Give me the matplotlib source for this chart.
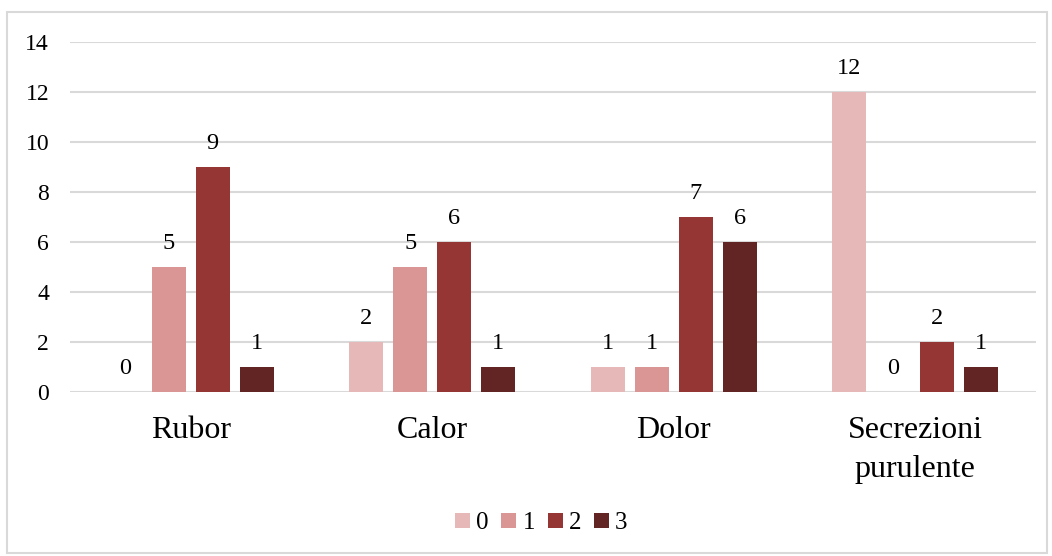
import matplotlib.pyplot as plt
import matplotlib.patches as mpatches
import numpy as np

plt.rcParams['font.family'] = ['Liberation Serif', 'DejaVu Serif']

categories = ["Rubor", "Calor", "Dolor", "Secrezioni\npurulente"]
levels = ["0", "1", "2", "3"]
values = [
    [0, 2, 1, 12],   # grado 0
    [5, 5, 1, 0],    # grado 1
    [9, 6, 7, 2],    # grado 2
    [1, 1, 6, 1],    # grado 3
]
colors = ["#E6B8B7", "#DA9694", "#963634", "#632523"]

fig = plt.figure(figsize=(10.52, 5.56), dpi=100)
ax = fig.add_axes([70 / 1052, 1 - 392 / 556, 966 / 1052, 350 / 556])

# outer chart frame
fig.patches.append(mpatches.Rectangle((7 / 1052, 3 / 556), 1040 / 1052, 541 / 556,
                                      transform=fig.transFigure, fill=False,
                                      edgecolor="#D9D9D9", linewidth=1.5))

x = np.arange(len(categories))
pitch = 0.182
W = 0.141
for i, (lvl, vals, c) in enumerate(zip(levels, values, colors)):
    pos = x + (i - 1.5) * pitch
    bars = ax.bar(pos, vals, W, color=c, label=lvl, zorder=3)
    for p, v in zip(pos, vals):
        ax.text(p, v + 0.52, f"{v}", ha="center", va="bottom", fontsize=17.5)

ax.set_xlim(-0.5, len(categories) - 0.5)
ax.set_ylim(0, 14)
ax.set_yticks(np.arange(0, 15, 2))
ax.tick_params(axis="y", length=0, labelsize=17, pad=15)
ax.tick_params(axis="x", length=0, labelsize=23, pad=17)
ax.set_xticks(x)
ax.set_xticklabels(categories, linespacing=1.45, va="top")
ax.grid(axis="y", color="#D9D9D9", linewidth=1.5, zorder=0)
for s in ax.spines.values():
    s.set_visible(False)

ax.legend(loc="center", bbox_to_anchor=(0.488, -0.375), ncol=4, frameon=False,
          fontsize=18, handlelength=0.6, handleheight=0.6, handletextpad=0.25,
          columnspacing=0.5)

fig.savefig("out.png", dpi=100)
